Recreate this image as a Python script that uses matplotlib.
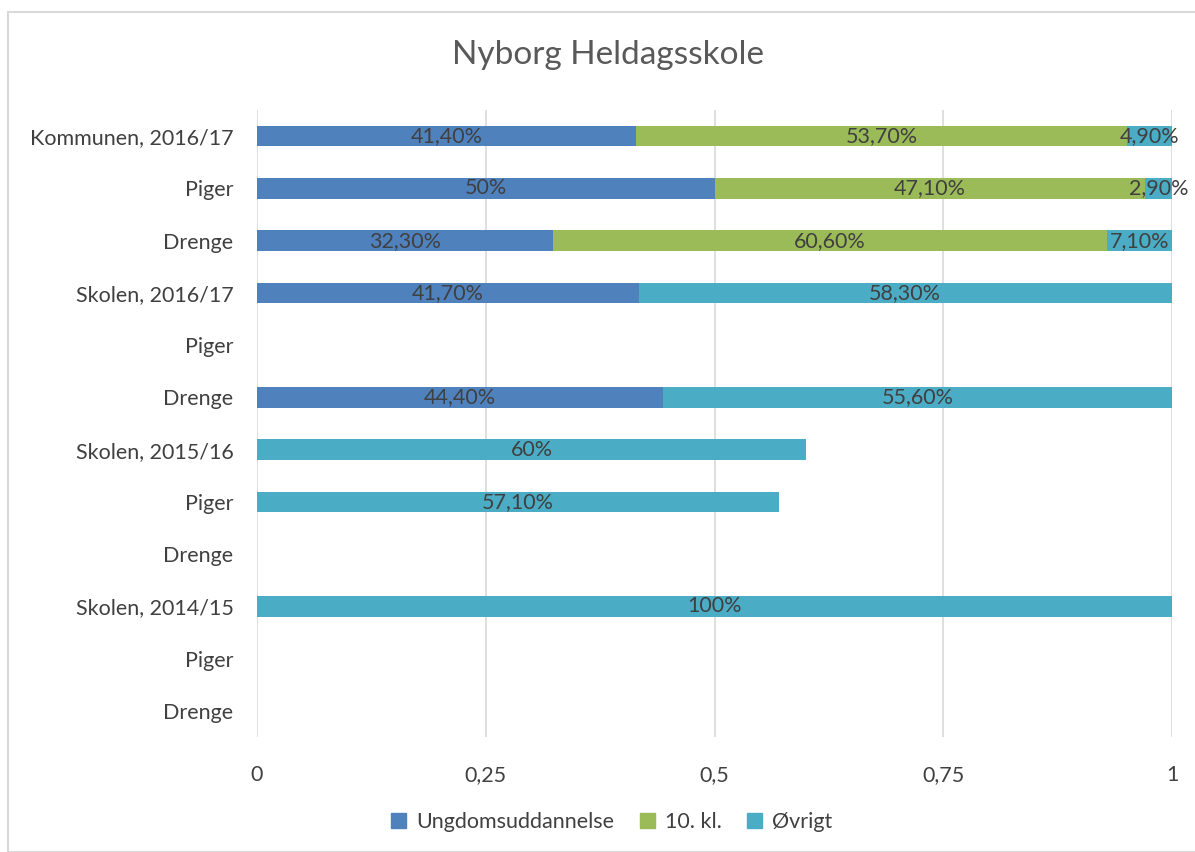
import matplotlib
matplotlib.use("Agg")
import matplotlib.pyplot as plt
from matplotlib.patches import Rectangle, Patch

plt.rcParams['font.family'] = ['Lato', 'DejaVu Sans']

# data
categories = ['Kommunen, 2016/17', 'Piger', 'Drenge',
              'Skolen, 2016/17', 'Piger', 'Drenge',
              'Skolen, 2015/16', 'Piger', 'Drenge',
              'Skolen, 2014/15', 'Piger', 'Drenge']
ungdom = [0.414, 0.50, 0.323, 0.417, 0, 0.444, 0, 0, 0, 0, 0, 0]
tiende = [0.537, 0.471, 0.606, 0, 0, 0, 0, 0, 0, 0, 0, 0]
ovrigt = [0.049, 0.029, 0.071, 0.583, 0, 0.556, 0.60, 0.571, 0, 1.0, 0, 0]
series_names = ['Ungdomsuddannelse', '10. kl.', 'Øvrigt']
xticks = [0, 0.25, 0.5, 0.75, 1]
xtick_labels = ['0', '0,25', '0,5', '0,75', '1']

colors = ['#4F81BD', '#9BBB59', '#4BACC6']
txt = '#404040'
fs = 15.5


def fmt(v):
    p = round(v * 100, 2)
    if p == int(p):
        return '%d%%' % p
    return ('%.2f%%' % p).replace('.', ',')


fig = plt.figure(figsize=(11.95, 8.52), dpi=100)
fig.patches.append(Rectangle((8 / 1195, 0), 1.1, 1 - 12 / 852, transform=fig.transFigure,
                             fill=False, edgecolor='#D9D9D9', linewidth=1.5))

ax = fig.add_axes([257 / 1195, 1 - 737 / 852, 915 / 1195, 627 / 852])
y = list(range(len(categories)))
left = [0] * len(categories)
for vals, c, name in zip([ungdom, tiende, ovrigt], colors, series_names):
    ax.barh(y, vals, left=left, height=0.39, color=c, label=name, zorder=3)
    for i, v in enumerate(vals):
        if v > 0:
            ax.text(left[i] + v / 2, i, fmt(v), ha='center', va='center',
                    fontsize=fs, color=txt, zorder=4)
    left = [l + v for l, v in zip(left, vals)]

ax.set_ylim(len(categories) - 0.5, -0.5)
ax.set_xlim(0, 1)
ax.set_yticks(y)
ax.set_yticklabels(categories, fontsize=fs, color=txt)
ax.set_xticks(xticks)
ax.set_xticklabels(xtick_labels, fontsize=fs, color=txt)
ax.tick_params(length=0, pad=17, axis='y')
ax.tick_params(length=0, pad=20, axis='x')
ax.grid(axis='x', color='#D9D9D9', linewidth=1.2, zorder=0)
for s in ax.spines.values():
    s.set_visible(False)

fig.text(0.509, 1 - 55 / 852, 'Nyborg Heldagsskole', ha='center', va='center',
         fontsize=24, color='#595959')

handles = [Patch(color=c) for c in colors]
fig.legend(handles, series_names, loc='center', bbox_to_anchor=(0.512, 1 - 822 / 852),
           ncol=3, frameon=False, fontsize=fs, handlelength=0.7, handleheight=0.7,
           columnspacing=1.2, handletextpad=0.45, labelcolor=txt)

fig.savefig('out.png', dpi=100)
